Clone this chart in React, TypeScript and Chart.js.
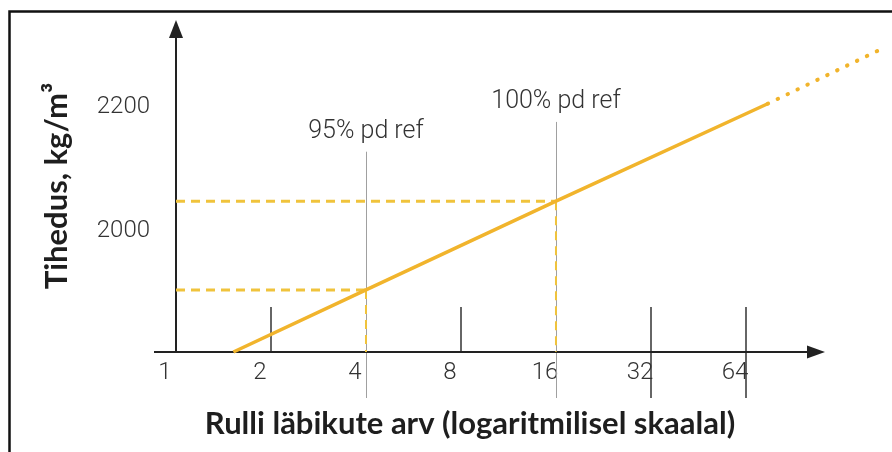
import React, { useEffect, useRef } from 'react';
import { Chart, registerables } from 'chart.js';

Chart.register(...registerables);

// ---- data ----
const xTickValues = [1, 2, 4, 8, 16, 32, 64];
const yTickValues = [2000, 2200];
const curveX = [1.52, 4, 16, 75];
const curveY = [1800, 1900, 2043, 2200];
const extrapX = [75, 170];
const extrapY = [2200, 2287];
const refX = [4, 16];
const refY = [1900, 2043];
const refLabels = ['95% pd ref', '100% pd ref'];
const refLabelY = [2155, 2203];
const shortTicks = [2, 8];
const longTicks = [32, 64];
const xMin = 1;
const xMax = 73;
const yMin = 1800;
const yMax = 2335;
const yTitle = 'Tihedus, kg/m³';
const xTitle = 'Rulli läbikute arv (logaritmilisel skaalal)';

const LINE_COLOR = '#F1B42C';
const DASH_COLOR = '#F0C33C';
const LIGHT_FAMILY = 'Roboto, "DejaVu Sans", sans-serif';
const LIGHT_FONT = { family: LIGHT_FAMILY, size: 24, weight: '300' as any };
const BOLD_FONT_FAMILY = 'Lato, "Open Sans", sans-serif';

const decor = {
  id: 'decor',
  beforeDatasetsDraw(chart: any) {
    const { ctx, scales } = chart;
    const x = scales.x;
    const y = scales.y;
    const ax = x.getPixelForValue(xMin);
    const ay = y.getPixelForValue(yMin);
    const top = chart.chartArea.top;
    const seg = (x1: number, y1: number, x2: number, y2: number) => {
      ctx.beginPath();
      ctx.moveTo(x1, y1);
      ctx.lineTo(x2, y2);
      ctx.stroke();
    };
    ctx.save();
    // reference vertical grey lines
    ctx.strokeStyle = '#a0a0a0';
    ctx.lineWidth = 1;
    refX.forEach((v, i) => {
      const px = Math.round(x.getPixelForValue(v)) + 0.5;
      const t = y.getPixelForValue(refLabelY[i]) + 20;
      seg(px, t, px, ay + 46);
    });
    // tick marks
    ctx.strokeStyle = '#333';
    ctx.lineWidth = 1.5;
    shortTicks.forEach((v) => {
      const px = Math.round(x.getPixelForValue(v));
      seg(px, ay - 45, px, ay);
    });
    longTicks.forEach((v) => {
      const px = Math.round(x.getPixelForValue(v));
      seg(px, ay - 45, px, ay + 46);
    });
    // axes
    ctx.strokeStyle = '#222';
    ctx.fillStyle = '#222';
    ctx.lineWidth = 2;
    const xEnd = x.right + 61;
    seg(ax - 22, ay, xEnd - 14, ay);
    ctx.beginPath();
    ctx.moveTo(xEnd, ay);
    ctx.lineTo(xEnd - 18, ay - 6.5);
    ctx.lineTo(xEnd - 18, ay + 6.5);
    ctx.closePath();
    ctx.fill();
    seg(ax, ay, ax, top + 14);
    ctx.beginPath();
    ctx.moveTo(ax, top);
    ctx.lineTo(ax - 7, top + 18);
    ctx.lineTo(ax + 7, top + 18);
    ctx.closePath();
    ctx.fill();
    // reference labels
    ctx.font = `300 25px ${LIGHT_FAMILY}`;
    ctx.fillStyle = '#333';
    ctx.textAlign = 'center';
    ctx.textBaseline = 'middle';
    refLabels.forEach((t, i) => {
      ctx.fillText(t, x.getPixelForValue(refX[i]), y.getPixelForValue(refLabelY[i]));
    });
    ctx.restore();
  },
  afterDraw(chart: any) {
    const { ctx, width, height } = chart;
    ctx.save();
    ctx.strokeStyle = '#111';
    ctx.lineWidth = 2.5;
    ctx.beginPath();
    ctx.moveTo(9.5, height + 5);
    ctx.lineTo(9.5, 11.5);
    ctx.lineTo(width + 5, 11.5);
    ctx.stroke();
    ctx.restore();
  },
};

export default function App() {
  const ref = useRef<HTMLCanvasElement | null>(null);
  useEffect(() => {
    if (!ref.current) return;
    const pts = (xs: number[], ys: number[]) => xs.map((v, i) => ({ x: v, y: ys[i] }));
    const refSets: any[] = [];
    refX.forEach((v, i) => {
      refSets.push({
        data: [{ x: xMin, y: refY[i] }, { x: v, y: refY[i] }],
        borderColor: DASH_COLOR,
        borderWidth: 3,
        borderDash: [9, 6],
        pointRadius: 0,
      });
      refSets.push({
        data: [{ x: v, y: refY[i] }, { x: v, y: yMin }],
        borderColor: DASH_COLOR,
        borderWidth: 2,
        borderDash: [9, 6],
        pointRadius: 0,
      });
    });
    const chart = new Chart(ref.current, {
      type: 'line',
      data: {
        datasets: [
          {
            data: pts(curveX, curveY),
            borderColor: LINE_COLOR,
            borderWidth: 3.5,
            pointRadius: 0,
            clip: false as any,
          },
          {
            data: pts(extrapX, extrapY),
            borderColor: LINE_COLOR,
            borderWidth: 4,
            borderDash: [0.5, 10.5],
            borderCapStyle: 'round',
            pointRadius: 0,
            clip: false as any,
          },
          ...refSets,
        ],
      },
      options: {
        animation: false,
        responsive: false,
        devicePixelRatio: 1,
        layout: { padding: { top: 20, right: 128, left: 0, bottom: 0 } },
        plugins: { legend: { display: false }, tooltip: { enabled: false } },
        scales: {
          x: {
            type: 'logarithmic',
            min: xMin,
            max: xMax,
            grid: { display: false, drawTicks: false },
            border: { display: false },
            afterBuildTicks: (s: any) => {
              s.ticks = xTickValues.map((v) => ({ value: v }));
            },
            afterFit: (s: any) => {
              s.height = 100;
            },
            ticks: {
              autoSkip: false,
              maxRotation: 0,
              labelOffset: -11,
              padding: 7,
              color: '#333',
              font: LIGHT_FONT,
              callback: (v: any) => String(v),
            },
            title: {
              display: true,
              text: xTitle,
              color: '#1e1e1e',
              font: { family: BOLD_FONT_FAMILY, size: 31, weight: 'bold' },
              padding: { top: 0, bottom: 9 },
            },
          },
          y: {
            type: 'linear',
            min: yMin,
            max: yMax,
            grid: { display: false, drawTicks: false },
            border: { display: false },
            afterBuildTicks: (s: any) => {
              s.ticks = yTickValues.map((v) => ({ value: v }));
            },
            afterFit: (s: any) => {
              s.width = 176;
              s.paddingTop = 0;
              s.paddingBottom = 0;
            },
            ticks: {
              padding: 26,
              labelOffset: 3,
              color: '#333',
              font: LIGHT_FONT,
              callback: (v: any) => String(v),
            },
            title: {
              display: true,
              text: yTitle,
              color: '#1e1e1e',
              font: { family: BOLD_FONT_FAMILY, size: 31, weight: 'bold' },
              padding: { top: 38, bottom: 0 },
            },
          },
        },
      },
      plugins: [decor],
    });
    return () => chart.destroy();
  }, []);
  return (
    <div style={{ position: 'absolute', left: 0, top: 0, width: 892, height: 452, background: '#fff' }}>
      <canvas ref={ref} width={892} height={452} style={{ display: 'block' }} />
    </div>
  );
}
